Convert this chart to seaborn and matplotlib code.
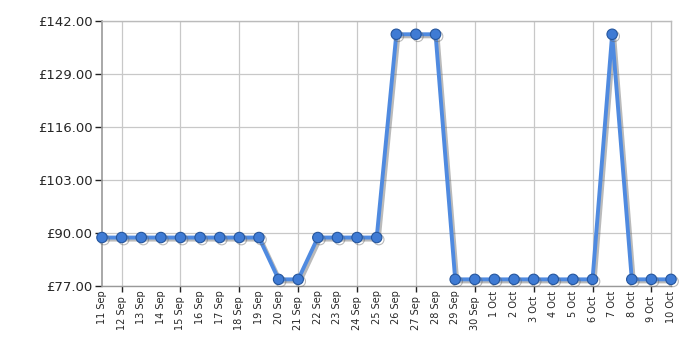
import matplotlib
matplotlib.use("Agg")
import matplotlib.pyplot as plt
import matplotlib.patheffects as pe
import seaborn as sns
import pandas as pd

dates = ["11 Sep", "12 Sep", "13 Sep", "14 Sep", "15 Sep", "16 Sep", "17 Sep", "18 Sep",
         "19 Sep", "20 Sep", "21 Sep", "22 Sep", "23 Sep", "24 Sep", "25 Sep", "26 Sep",
         "27 Sep", "28 Sep", "29 Sep", "30 Sep", "1 Oct", "2 Oct", "3 Oct", "4 Oct",
         "5 Oct", "6 Oct", "7 Oct", "8 Oct", "9 Oct", "10 Oct"]
prices = [88.95, 88.95, 88.95, 88.95, 88.95, 88.95, 88.95, 88.95, 88.95,
          78.70, 78.70,
          88.95, 88.95, 88.95, 88.95,
          138.75, 138.75, 138.75,
          78.70, 78.70, 78.70, 78.70, 78.70, 78.70, 78.70, 78.70,
          138.75,
          78.70, 78.70, 78.70]
y_ticks = [77, 90, 103, 116, 129, 142]
y_labels = ["£77.00", "£90.00", "£103.00", "£116.00", "£129.00", "£142.00"]

df = pd.DataFrame({"idx": range(len(dates)), "price": prices})

sns.set_style("white")
plt.rcParams["font.family"] = ["DejaVu Sans"]

fig = plt.figure(figsize=(7, 3.5), dpi=100)
ax = fig.add_axes([0.1457, 0.182, 0.9586 - 0.1457, 0.94 - 0.182])

sns.lineplot(data=df, x="idx", y="price", ax=ax, color="#4f8ae0", linewidth=2.8,
             marker="o", markersize=7.5, markerfacecolor="#3f7bd4",
             markeredgecolor="#25569e", markeredgewidth=0.8, zorder=5)
line = ax.lines[0]
line.set_path_effects([pe.SimpleLineShadow(offset=(1.5, -1.5), shadow_color="#666666", alpha=0.45),
                       pe.Normal()])
line.set_clip_on(False)

ax.set_xlim(0, len(dates) - 1)
ax.set_ylim(77, 142)

major = [i for i in range(len(dates)) if (i - 1) % 3 == 0]
minor = [i for i in range(len(dates)) if (i - 1) % 3 != 0]
ax.set_xticks(major, [dates[i] for i in major])
ax.set_xticks(minor, [dates[i] for i in minor], minor=True)
ax.tick_params(axis="x", which="both", rotation=90, labelsize=7, pad=3)
ax.tick_params(axis="x", which="major", length=4, width=1, color="#222222", direction="out", bottom=True)
ax.tick_params(axis="x", which="minor", length=0, bottom=True)

ax.set_yticks(y_ticks, y_labels)
ax.tick_params(axis="y", labelsize=9.5, length=5, width=1, color="#222222", direction="out", left=True, pad=2)

ax.grid(True, which="major", color="#c8c8c8", linewidth=0.9)
ax.set_axisbelow(True)
for side in ["top", "right", "bottom"]:
    ax.spines[side].set_color("#bbbbbb")
    ax.spines[side].set_linewidth(1)
ax.spines["left"].set_color("#999999")
ax.spines["left"].set_linewidth(1.2)
ax.spines["bottom"].set_color("#999999")

ax.set_xlabel("")
ax.set_ylabel("")

fig.savefig("out.png", dpi=100)
